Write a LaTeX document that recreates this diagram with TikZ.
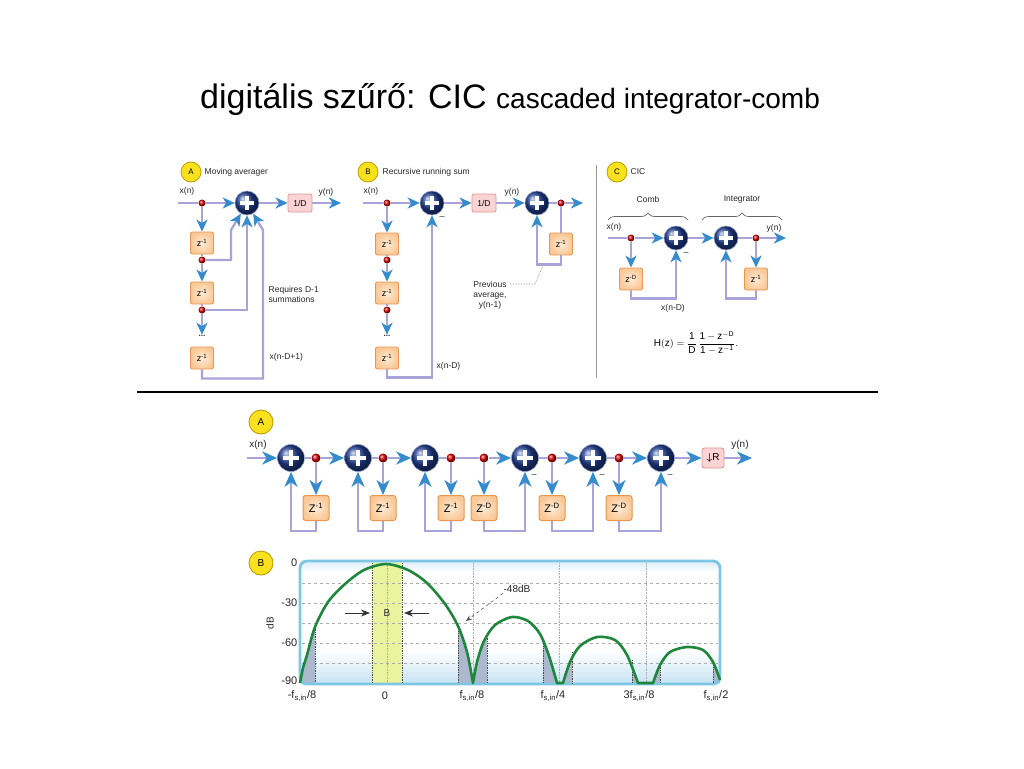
\documentclass[tikz,border=0pt]{standalone}
\usepackage{amsmath}
\usepackage{fontspec}
\setmainfont{Liberation Sans}
\setsansfont{Liberation Sans}
\usetikzlibrary{arrows.meta,decorations.pathreplacing}

\definecolor{rail}{RGB}{168,163,216}
\definecolor{arrowblue}{RGB}{52,140,205}
\definecolor{sumblue}{RGB}{35,65,150}
\definecolor{boxfill}{RGB}{250,200,150}
\definecolor{boxinner}{RGB}{254,236,215}
\definecolor{boxdraw}{RGB}{232,150,80}
\definecolor{pinkfill}{RGB}{250,212,212}
\definecolor{pinkdraw}{RGB}{225,150,150}
\definecolor{badgefill}{RGB}{250,225,30}
\definecolor{badgedraw}{RGB}{190,160,0}
\definecolor{curvegreen}{RGB}{30,135,60}
\definecolor{framecol}{RGB}{125,198,228}
\definecolor{panelblue}{RGB}{200,228,243}
\definecolor{aliascol}{RGB}{172,184,206}
\definecolor{bandcol}{RGB}{234,244,158}

\begin{document}
\begin{tikzpicture}[x=1pt,y=-1pt,
  railline/.style={draw=rail,line width=2.3pt},
  tipa/.style={-{Stealth[length=12pt,width=11pt,inset=3.5pt,color=arrowblue]}},
  tipb/.style={-{Stealth[length=15pt,width=13pt,inset=4.5pt,color=arrowblue]}},
  sumA/.style={circle,minimum size=24pt,inner sep=0pt,ball color=sumblue,draw=sumblue!50!white,line width=0.6pt,
     path picture={\draw[white,line width=3.2pt]
       ([xshift=-7pt]path picture bounding box.center) -- ([xshift=7pt]path picture bounding box.center)
       ([yshift=-7pt]path picture bounding box.center) -- ([yshift=7pt]path picture bounding box.center);}},
  sumB/.style={circle,minimum size=27pt,inner sep=0pt,ball color=sumblue,draw=sumblue!50!white,line width=0.6pt,
     path picture={\draw[white,line width=3.8pt]
       ([xshift=-8pt]path picture bounding box.center) -- ([xshift=8pt]path picture bounding box.center)
       ([yshift=-8pt]path picture bounding box.center) -- ([yshift=8pt]path picture bounding box.center);}},
  dotS/.style={circle,minimum size=7pt,inner sep=0pt,ball color=red!85!black},
  dotB/.style={circle,minimum size=9pt,inner sep=0pt,ball color=red!85!black},
  dbox/.style={rectangle,rounded corners=2pt,draw=boxdraw,line width=0.9pt,inner color=boxinner,outer color=boxfill,
     minimum width=23pt,minimum height=22pt,inner sep=0pt,font=\fontsize{9}{10}\selectfont},
  dboxB/.style={rectangle,rounded corners=2.5pt,draw=boxdraw,line width=1pt,inner color=boxinner,outer color=boxfill,
     minimum width=26pt,minimum height=25pt,inner sep=0pt,font=\fontsize{11}{12}\selectfont},
  pinkbox/.style={rectangle,rounded corners=2pt,draw=pinkdraw,line width=0.8pt,fill=pinkfill,
     minimum width=24pt,minimum height=18pt,inner sep=0pt,font=\fontsize{8.5}{9}\selectfont},
  pinkboxB/.style={rectangle,rounded corners=2.5pt,draw=pinkdraw,line width=0.9pt,fill=pinkfill,
     minimum width=22pt,minimum height=20pt,inner sep=0pt,font=\fontsize{10}{11}\selectfont},
  badge/.style={circle,minimum size=20pt,inner sep=0pt,fill=badgefill,draw=badgedraw,line width=0.8pt,font=\fontsize{8}{9}\selectfont},
  badgeB/.style={circle,minimum size=24pt,inner sep=0pt,fill=badgefill,draw=badgedraw,line width=0.9pt,font=\fontsize{10}{11}\selectfont},
  lbl/.style={inner sep=0.5pt,font=\fontsize{8.5}{10}\selectfont,text=black!85},
  minus/.style={inner sep=0pt,font=\fontsize{9}{10}\selectfont,text=black!85},
  lblB/.style={inner sep=0.5pt,font=\fontsize{10}{12}\selectfont,text=black!85},
  axl/.style={inner sep=0.5pt,font=\fontsize{11}{13}\selectfont,text=black!85},
  bracestyle/.style={decorate,decoration={brace,amplitude=7pt},draw=black!60,line width=0.7pt}
]
\useasboundingbox (0,0) rectangle (1024,768);
\fill[white] (0,0) rectangle (1024,768);

% ---------- title ----------
\node[anchor=base west,inner sep=0pt] (title) at (200,108)
  {\fontsize{34}{40}\selectfont digitális szűrő: CIC \fontsize{28}{34}\selectfont cascaded integrator-comb};

% ---------- panel A : moving averager ----------
\node[badge] (bdgA) at (191,172) {A};
\node[lbl,anchor=west] (tA) at (204,172) {Moving averager};
\coordinate (inA) at (178,203);
\node[lbl] (xA) at (187,191) {x(n)};
\node[dotS] (dA1) at (202,203) {};
\node[sumA] (sA) at (247,203) {};
\node[pinkbox] (pA) at (300,203) {1/D};
\coordinate (outA) at (341,203);
\node[lbl] (yA) at (326,192) {y(n)};
\node[dbox] (bA1) at (202,243) {z\textsuperscript{-1}};
\node[dotS] (dA2) at (202,260) {};
\node[dbox] (bA2) at (202,293) {z\textsuperscript{-1}};
\node[dotS] (dA3) at (202,310) {};
\node[lbl,font=\bfseries\fontsize{8}{8}\selectfont] (ellA) at (202,336) {...};
\node[dbox] (bA3) at (202,358) {z\textsuperscript{-1}};
\node[lbl,anchor=west,align=left] (reqA) at (268,294) {Requires D-1\\summations};
\node[lbl,anchor=west] (xdA) at (269,357) {x(n-D+1)};

\draw[railline] (inA) -- (dA1);
\draw[railline,tipa] (dA1) -- (sA);
\draw[railline,tipa] (sA) -- (pA);
\draw[railline,tipa] (pA) -- (outA);
\draw[railline,tipa] (dA1) -- (bA1);
\draw[railline] (bA1) -- (dA2);
\draw[railline,tipa] (dA2) -- (bA2);
\draw[railline] (bA2) -- (dA3);
\draw[railline,tipa] (dA3) -- (ellA);
\draw[railline,tipa] (dA2) -| (231,230) -- (sA.240);
\draw[railline,tipa] (dA3) -| (sA.south);
\draw[railline,tipa] (bA3.south) -- ++(0,9) -| (263,230) -- (sA.300);

% ---------- panel B : recursive running sum ----------
\node[badge] (bdgB) at (368,172) {B};
\node[lbl,anchor=west] (tB) at (382,172) {Recursive running sum};
\coordinate (inB) at (363,203);
\node[lbl] (xB) at (371,191) {x(n)};
\node[dotS] (dB1) at (387,203) {};
\node[sumA] (sB1) at (432,203) {};
\node[minus] (mB1) at (442,218) {–};
\node[pinkbox] (pB) at (484,203) {1/D};
\node[lbl] (yB) at (512,192) {y(n)};
\node[sumA] (sB2) at (537,203) {};
\node[dotS] (dB4) at (561,203) {};
\coordinate (outB) at (583,203);
\node[dbox] (bB4) at (561,244) {z\textsuperscript{-1}};
\node[dbox] (bB1) at (387,244) {z\textsuperscript{-1}};
\node[dotS] (dB2) at (387,260) {};
\node[dbox] (bB2) at (387,293) {z\textsuperscript{-1}};
\node[dotS] (dB3) at (387,310) {};
\node[lbl,font=\bfseries\fontsize{8}{8}\selectfont] (ellB) at (387,336) {...};
\node[dbox] (bB3) at (387,358) {z\textsuperscript{-1}};
\node[lbl,anchor=west] (xdB) at (436,366) {x(n-D)};
\node[lbl,align=center] (prevB) at (490,295) {Previous\\average,\\y(n-1)};
\coordinate (ldA) at (510,284);
\coordinate (ldB) at (535,284);
\coordinate (ldC) at (543,266);
\draw[gray,densely dotted,line width=0.6pt] (ldA) -- (ldB) -- (ldC);

\draw[railline] (inB) -- (dB1);
\draw[railline,tipa] (dB1) -- (sB1);
\draw[railline,tipa] (sB1) -- (pB);
\draw[railline,tipa] (pB) -- (sB2);
\draw[railline] (sB2) -- (dB4);
\draw[railline,tipa] (dB4) -- (outB);
\draw[railline] (dB4) -- (bB4);
\draw[railline,tipa] (bB4.south) -- ++(0,9) -| (sB2.south);
\draw[railline,tipa] (dB1) -- (bB1);
\draw[railline] (bB1) -- (dB2);
\draw[railline,tipa] (dB2) -- (bB2);
\draw[railline] (bB2) -- (dB3);
\draw[railline,tipa] (dB3) -- (ellB);
\draw[railline,tipa] (bB3.south) -- ++(0,8) -| (sB1.south);

% divider
\draw[gray!80,line width=0.8pt] (596,165) -- (596,378);

% ---------- panel C : CIC ----------
\node[badge] (bdgC) at (617,172) {C};
\node[lbl,anchor=west] (tC) at (630,172) {CIC};
\node[lbl] (combL) at (648,199) {Comb};
\draw[bracestyle] (608,220) -- (688,220);
\node[lbl] (intL) at (742,199) {Integrator};
\draw[bracestyle] (702,220) -- (782,220);
\coordinate (inC) at (608,238);
\node[lbl] (xC) at (614,227) {x(n)};
\node[dotS] (dC1) at (631,238) {};
\node[sumA] (sC1) at (676,238) {};
\node[minus] (mC1) at (686,254) {–};
\node[sumA] (sC2) at (726,238) {};
\node[dotS] (dC2) at (756,238) {};
\coordinate (outC) at (786,238);
\node[lbl] (yC) at (774,228) {y(n)};
\node[dbox] (bC1) at (631,279) {z\textsuperscript{-D}};
\node[dbox] (bC2) at (756,279) {z\textsuperscript{-1}};
\node[lbl] (xdC) at (673,308) {x(n-D)};
\node[inner sep=0pt,font=\fontsize{10}{12}\selectfont] (HC) at (696,343)
  {$\displaystyle \mathsf{H}(\mathsf{z})=\frac{\mathsf{1}}{\mathsf{D}}\,\frac{\mathsf{1}-\mathsf{z}^{-\mathsf{D}}}{\mathsf{1}-\mathsf{z}^{-\mathsf{1}}}.$};

\draw[railline] (inC) -- (dC1);
\draw[railline,tipa] (dC1) -- (sC1);
\draw[railline,tipa] (sC1) -- (sC2);
\draw[railline] (sC2) -- (dC2);
\draw[railline,tipa] (dC2) -- (outC);
\draw[railline,tipa] (dC1) -- (bC1);
\draw[railline,tipa] (dC2) -- (bC2);
\draw[railline,tipa] (bC1.south) -- ++(0,8) -| (sC1.south);
\draw[railline,tipa] (bC2.south) -- ++(0,8) -| (sC2.south);

% separator
\draw[black,line width=2.6pt] (137,392) -- (878,392);

% ---------- bottom A : CIC chain ----------
\node[badgeB] (bdgD) at (261,422) {A};
\coordinate (inD) at (247,458);
\node[lblB] (xD) at (258,445) {x(n)};
\node[sumB] (s1) at (291,458) {};
\node[dotB] (e1) at (316,458) {};
\node[sumB] (s2) at (358,458) {};
\node[dotB] (e2) at (383,458) {};
\node[sumB] (s3) at (425,458) {};
\node[dotB] (e3) at (451,458) {};
\node[dotB] (e4) at (484,458) {};
\node[sumB] (s4) at (525,458) {};
\node[dotB] (e5) at (552,458) {};
\node[sumB] (s5) at (593,458) {};
\node[dotB] (e6) at (619,458) {};
\node[sumB] (s6) at (661,458) {};
\node[pinkboxB] (rD) at (713,458) {$\boldsymbol{\downarrow}$R};
\coordinate (outD) at (752,458);
\node[lblB] (yD) at (740,445) {y(n)};
\node[dboxB] (q1) at (316,508) {Z\textsuperscript{-1}};
\node[dboxB] (q2) at (383,508) {Z\textsuperscript{-1}};
\node[dboxB] (q3) at (451,508) {Z\textsuperscript{-1}};
\node[dboxB] (q4) at (484,508) {Z\textsuperscript{-D}};
\node[dboxB] (q5) at (552,508) {Z\textsuperscript{-D}};
\node[dboxB] (q6) at (619,508) {Z\textsuperscript{-D}};
\node[minus] (m4) at (534,476) {–};
\node[minus] (m5) at (602,476) {–};
\node[minus] (m6) at (670,476) {–};

\draw[railline,tipb] (inD) -- (s1);
\draw[railline] (s1) -- (e1);
\draw[railline,tipb] (e1) -- (s2);
\draw[railline] (s2) -- (e2);
\draw[railline,tipb] (e2) -- (s3);
\draw[railline] (s3) -- (e3);
\draw[railline] (e3) -- (e4);
\draw[railline,tipb] (e4) -- (s4);
\draw[railline] (s4) -- (e5);
\draw[railline,tipb] (e5) -- (s5);
\draw[railline] (s5) -- (e6);
\draw[railline,tipb] (e6) -- (s6);
\draw[railline,tipb] (s6) -- (rD);
\draw[railline,tipb] (rD) -- (outD);
\foreach \d/\q in {e1/q1,e2/q2,e3/q3,e4/q4,e5/q5,e6/q6}{
  \draw[railline,tipb] (\d) -- (\q);
}
\foreach \q/\s in {q1/s1,q2/s2,q3/s3,q4/s4,q5/s5,q6/s6}{
  \draw[railline,tipb] (\q.south) -- ++(0,10) -| (\s.south);
}

% ---------- bottom B : frequency response ----------
\node[badgeB] (bdgE) at (261,563) {B};
\fill[white,rounded corners=7pt] (300,561) rectangle (720,684);
\fill[top color=white,bottom color=panelblue] (301,650) rectangle (719,683);
\fill[top color=panelblue!60,bottom color=white] (301,562) rectangle (719,572);
% pass band
\fill[bandcol] (372,563) rectangle (402,683);
% grid
\foreach \yy in {583,603,623,643,663}{
  \draw[gray!65,dashed,line width=0.6pt] (302,\yy) -- (718,\yy);
}
\foreach \xx in {387,473,559,646}{
  \draw[gray!65,densely dotted,line width=0.6pt] (\xx,563) -- (\xx,683);
}
% aliasing areas
\begin{scope}
\clip (300,560) rectangle (315,684) (458,560) rectangle (487,684) (543,560) rectangle (572,684)
      (632,560) rectangle (660,684) (713,560) rectangle (721,684);
\fill[aliascol]
  plot[smooth] coordinates {(300,683) (303,668) (307,655) (315,627) (328,602) (345,584) (364,570) (386,564) (408,570) (427,583) (445,604) (458,626) (467,652) (473,683)}
  -- plot[smooth] coordinates {(473,683) (477,662) (484,641) (495,625) (512,617) (528,621) (540,634) (549,656) (557,683)}
  -- (563,683)
  -- plot[smooth] coordinates {(563,683) (570,662) (580,646) (597,637) (615,640) (627,655) (638,683)}
  -- (653,683)
  -- plot[smooth] coordinates {(653,683) (660,665) (670,652) (687,647) (703,650) (713,662) (720,680)}
  -- (720,683) -- (300,683) -- cycle;
\end{scope}
% frame border
\draw[framecol,line width=2.8pt,rounded corners=7pt] (300,561) rectangle (720,684);
% dark dotted edges
\draw[black!70,densely dotted,line width=0.7pt] (372,563) -- (372,683);
\draw[black!70,densely dotted,line width=0.7pt] (402,563) -- (402,683);
\foreach \xx/\yy in {315/627,458/626,487/636,543/641,572/652,632/660,660/665,713/662}{
  \draw[black!70,densely dotted,line width=0.7pt] (\xx,\yy) -- (\xx,683);
}
% curve
\draw[curvegreen,line width=2.6pt,line join=round]
  plot[smooth] coordinates {(300,683) (303,668) (307,655) (315,627) (328,602) (345,584) (364,570) (386,564) (408,570) (427,583) (445,604) (458,626) (467,652) (473,683)}
  -- plot[smooth] coordinates {(473,683) (477,662) (484,641) (495,625) (512,617) (528,621) (540,634) (549,656) (557,683)}
  -- (563,683)
  -- plot[smooth] coordinates {(563,683) (570,662) (580,646) (597,637) (615,640) (627,655) (638,683)}
  -- (653,683)
  -- plot[smooth] coordinates {(653,683) (660,665) (670,652) (687,647) (703,650) (713,662) (720,680)};
% band arrows and label
\node[lblB] (bandB) at (387,613) {B};
\coordinate (bL1) at (345,613);
\coordinate (bL2) at (370,613);
\coordinate (bR1) at (429,613);
\coordinate (bR2) at (404,613);
\draw[black!80,line width=1pt,-{Stealth[length=9pt,width=7pt]}] (bL1) -- (bL2);
\draw[black!80,line width=1pt,-{Stealth[length=9pt,width=7pt]}] (bR1) -- (bR2);
% -48dB
\node[lblB] (m48) at (517,589) {-48dB};
\coordinate (m48t) at (466,621);
\draw[black!65,dashed,line width=0.6pt,-{Stealth[length=6pt,width=5pt]}] (m48.south west) -- (m48t);
% axes labels
\node[lblB,rotate=90] (dBl) at (270,623) {dB};
\node[axl,anchor=east] (t0) at (298,563) {0};
\node[axl,anchor=east] (t30) at (298,603) {-30};
\node[axl,anchor=east] (t60) at (298,643) {-60};
\node[axl,anchor=east] (t90) at (298,681) {-90};
\node[axl] (f1) at (302,696) {-f\textsubscript{s,in}/8};
\node[axl] (f2) at (385,696) {0};
\node[axl] (f3) at (472,696) {f\textsubscript{s,in}/8};
\node[axl] (f4) at (553,696) {f\textsubscript{s,in}/4};
\node[axl] (f5) at (639,696) {3f\textsubscript{s,in}/8};
\node[axl] (f6) at (716,696) {f\textsubscript{s,in}/2};
\end{tikzpicture}
\end{document}
